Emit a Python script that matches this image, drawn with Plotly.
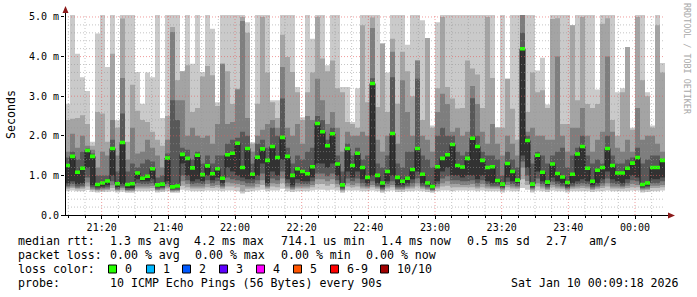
import pandas as pd
import plotly.graph_objects as go

# ---------------- data (ms) ----------------
start_time = "2026-01-09 21:09:00"
end_time = "2026-01-10 00:09:00"
step_seconds = 90

median = [1.25,1.48,1.08,1.18,1.63,1.48,0.77,0.81,0.86,1.68,0.79,1.83,0.77,0.79,1.06,0.93,0.98,1.17,0.76,0.78,
          1.44,0.71,0.73,1.53,1.43,1.19,1.51,1.02,1.24,1.04,1.17,0.93,1.52,1.56,1.81,1.20,1.68,1.03,1.46,1.67,
          1.38,1.73,1.45,1.96,1.48,1.00,1.17,1.10,1.04,1.22,2.31,2.10,1.75,2.05,1.29,0.76,1.68,1.25,1.56,1.20,
          0.95,3.32,1.00,0.81,1.10,2.06,0.95,0.85,0.93,1.15,1.68,1.03,0.81,0.72,1.22,1.43,1.52,1.78,1.25,1.21,
          1.43,1.94,1.73,1.38,1.20,1.22,0.87,0.78,1.30,1.10,0.88,4.20,1.88,0.78,1.51,1.08,0.83,1.29,1.05,0.96,
          0.82,1.03,1.54,1.73,1.18,0.85,1.13,1.20,1.68,1.25,1.06,1.06,1.18,1.31,1.45,0.77,0.81,1.20,1.20,1.38]

ping10 = [2.81,5.1,4.07,3.48,3.13,1.85,4.58,5.1,3.74,5.1,2.39,5.1,5.1,5.1,3.61,2.81,3.6,3.48,5.1,2.45,
          5.1,5.1,5.1,3.63,5.1,3.82,5.1,3.61,5.1,4.7,2.85,5.1,5.1,5.1,5.1,5.1,4.87,1.84,5.1,5.1,
          5.1,2.9,2.9,5.1,5.1,5.1,3.23,2.47,5.1,4.45,5.1,5.1,3.78,5.1,5.1,3.23,3.23,2.35,3.2,5.1,
          5.1,5.1,5.1,4.33,3.6,5.1,5.1,5.1,4.3,5.1,5.1,4.92,4.47,2.26,4.87,5.1,5.1,5.1,5.1,5.1,
          5.1,5.1,5.1,5.1,5.1,5.1,2.22,5.1,3.44,5.1,5.1,5.1,5.1,5.1,3.65,3.97,2.79,5.1,5.1,5.1,
          5.1,4.79,5.1,5.1,5.1,5.1,3.17,5.1,5.1,5.1,3.1,3.2,4.24,2.2,5.1,5.1,3.1,2.26,5.1,3.84]

ping9 = [2.4,2.43,2.45,2.52,2.3,1.75,2.6,2.56,1.85,4.07,2.2,4.96,1.85,3.29,2.63,2.4,2.35,2.1,1.9,1.75,
         2.5,4.75,3.4,3.63,3.78,2.6,2.7,3.5,3.76,3.53,2.75,3.82,3.63,2.8,3.19,5.0,4.6,1.8,2.81,5.0,
         3.6,2.85,2.45,4.55,3.99,3.61,3.1,2.4,3.1,3.6,5.0,3.95,3.63,3.9,3.2,3.1,2.35,2.3,2.2,4.79,
         2.85,4.99,2.73,4.33,2.6,4.45,2.81,4.12,3.63,3.0,3.9,2.4,4.47,2.2,3.2,5.0,3.23,2.94,2.69,2.7,
         3.9,3.7,3.55,2.7,5.0,3.46,2.2,2.2,3.44,2.68,1.9,5.1,2.6,3.6,3.1,3.15,2.7,4.95,4.97,2.3,
         2.3,4.79,2.9,5.0,2.8,2.7,2.8,4.83,4.97,2.4,2.0,3.1,4.24,2.15,5.0,3.4,3.0,2.2,4.79,3.6]

ping8 = [1.6,2.05,1.7,2.0,1.75,1.65,1.2,1.6,1.5,2.4,1.5,3.46,1.4,2.2,1.55,1.6,1.9,1.7,1.5,1.2,
         1.9,4.62,2.9,2.9,2.0,2.2,2.0,1.95,2.0,1.8,2.3,3.82,2.3,2.35,3.17,4.9,2.45,1.6,2.0,2.15,
         2.3,2.4,2.2,3.74,2.2,2.0,2.3,1.8,2.5,2.4,3.44,2.9,2.3,2.6,2.2,1.6,2.1,2.0,2.0,2.1,
         2.0,4.72,1.9,1.6,2.0,4.12,1.8,3.4,2.6,2.0,3.9,2.0,1.9,1.6,2.6,3.06,2.8,2.1,2.2,2.0,
         2.1,3.26,2.8,2.1,1.8,2.3,1.8,1.5,2.0,1.8,1.5,5.1,2.1,2.2,2.0,2.0,1.9,1.9,4.0,2.0,
         1.6,2.2,2.2,2.7,2.0,1.6,1.9,2.1,4.0,2.1,1.7,1.6,1.9,1.6,2.7,1.9,2.0,2.0,1.8,1.6]

ping7 = [1.45,1.6,1.4,1.6,1.68,1.55,1.0,1.0,1.0,1.9,1.1,2.56,1.1,1.3,1.2,1.3,1.4,1.35,0.95,1.0,
         1.55,2.9,2.4,1.7,1.65,1.4,1.6,1.3,1.5,1.3,1.5,1.5,1.8,1.9,1.95,2.1,2.0,1.3,1.8,1.9,
         1.7,2.2,2.0,2.94,1.7,1.3,1.5,1.4,1.6,1.7,2.5,2.4,1.9,2.2,1.5,1.1,1.8,1.5,1.7,1.4,
         1.5,3.45,1.3,1.2,1.5,3.48,1.3,1.2,1.6,1.6,3.44,1.5,1.4,1.2,2.0,2.2,2.0,2.0,1.6,1.5,
         1.6,2.95,2.0,1.6,1.5,1.5,1.4,1.0,1.6,1.4,1.2,4.6,2.0,1.3,1.6,1.5,1.3,1.5,1.6,1.7,
         1.2,1.5,1.7,2.0,1.5,1.3,1.4,1.3,2.0,1.5,1.3,1.3,1.4,1.45,1.7,1.3,1.4,1.5,1.5,1.4]

ping5 = [0.8,0.85,0.78,0.8,1.2,0.75,0.7,0.72,0.75,1.0,0.7,0.78,0.68,0.68,0.9,0.85,0.85,0.9,0.7,0.72,
         0.85,0.66,0.68,1.3,1.0,0.85,0.9,0.85,1.0,0.88,0.95,0.8,1.2,1.1,1.0,0.95,0.9,0.9,1.0,1.3,
         0.8,1.1,1.0,1.4,0.9,0.75,0.9,0.85,0.85,0.95,1.3,1.3,1.2,1.3,1.0,0.7,1.1,0.95,1.1,0.9,
         0.8,1.0,0.8,0.7,0.85,1.0,0.75,0.75,0.8,0.9,1.1,0.8,0.75,0.68,0.85,1.1,1.2,1.0,1.0,0.95,
         1.0,1.0,0.9,1.0,0.85,0.8,0.8,0.72,0.95,0.85,0.8,1.5,1.2,0.72,1.1,0.85,0.75,0.95,0.85,0.8,
         0.72,0.8,0.85,0.9,0.85,0.75,0.8,0.9,1.1,0.9,0.85,0.8,0.9,1.0,0.95,0.72,0.74,0.9,0.9,0.95]

ping4 = [0.74,0.78,0.72,0.74,0.95,0.7,0.66,0.68,0.7,0.85,0.66,0.72,0.64,0.65,0.8,0.78,0.78,0.8,0.66,0.68,
         0.78,0.63,0.64,1.0,0.88,0.78,0.8,0.78,0.88,0.8,0.85,0.74,0.95,0.9,0.88,0.85,0.8,0.8,0.88,1.05,
         0.74,0.92,0.88,1.1,0.8,0.7,0.8,0.78,0.78,0.85,1.05,1.05,0.98,1.05,0.88,0.66,0.92,0.85,0.92,0.8,
         0.74,0.85,0.74,0.66,0.78,0.85,0.7,0.7,0.74,0.8,0.92,0.74,0.7,0.64,0.78,0.92,0.98,0.88,0.88,0.85,
         0.85,0.88,0.8,0.88,0.78,0.74,0.74,0.68,0.84,0.78,0.74,1.35,1.0,0.68,0.92,0.78,0.7,0.84,0.78,0.74,
         0.68,0.74,0.78,0.8,0.78,0.7,0.74,0.8,0.92,0.8,0.78,0.74,0.8,0.88,0.85,0.68,0.7,0.8,0.8,0.85]

ping3 = [0.7,0.72,0.68,0.7,0.82,0.66,0.63,0.65,0.66,0.75,0.63,0.68,0.62,0.62,0.72,0.72,0.72,0.73,0.63,0.65,
         0.72,0.61,0.62,0.85,0.78,0.72,0.72,0.72,0.78,0.73,0.76,0.7,0.82,0.8,0.78,0.76,0.72,0.72,0.78,0.88,
         0.7,0.8,0.78,0.92,0.72,0.66,0.72,0.72,0.72,0.76,0.9,0.9,0.85,0.9,0.78,0.63,0.8,0.76,0.8,0.72,
         0.7,0.76,0.7,0.63,0.72,0.76,0.66,0.66,0.7,0.72,0.8,0.7,0.66,0.62,0.72,0.8,0.85,0.78,0.78,0.76,
         0.76,0.78,0.72,0.78,0.72,0.7,0.7,0.65,0.76,0.72,0.7,1.2,0.86,0.65,0.8,0.72,0.66,0.76,0.72,0.7,
         0.65,0.7,0.72,0.74,0.72,0.66,0.7,0.74,0.8,0.72,0.72,0.7,0.74,0.78,0.76,0.65,0.66,0.74,0.74,0.76]

ping2 = [0.66,0.68,0.65,0.66,0.72,0.63,0.61,0.62,0.63,0.68,0.61,0.64,0.6,0.6,0.67,0.67,0.67,0.68,0.61,0.62,
         0.67,0.59,0.6,0.74,0.7,0.67,0.67,0.67,0.7,0.68,0.7,0.66,0.72,0.72,0.7,0.6,0.66,0.67,0.7,0.76,
         0.66,0.72,0.7,0.8,0.67,0.63,0.67,0.67,0.67,0.7,0.78,0.78,0.74,0.78,0.7,0.6,0.72,0.7,0.72,0.67,
         0.66,0.7,0.66,0.6,0.67,0.7,0.63,0.63,0.66,0.67,0.72,0.66,0.63,0.6,0.67,0.72,0.74,0.7,0.7,0.7,
         0.7,0.7,0.67,0.7,0.67,0.66,0.66,0.62,0.7,0.67,0.66,0.9,0.76,0.62,0.72,0.67,0.63,0.7,0.67,0.66,
         0.62,0.66,0.67,0.68,0.67,0.63,0.66,0.68,0.72,0.67,0.67,0.66,0.68,0.7,0.7,0.62,0.63,0.68,0.68,0.7]

ping1 = [0.6,0.62,0.6,0.6,0.63,0.59,0.57,0.58,0.59,0.6,0.57,0.59,0.56,0.56,0.6,0.6,0.6,0.61,0.57,0.58,
         0.6,0.56,0.56,0.64,0.62,0.6,0.6,0.6,0.62,0.61,0.62,0.6,0.62,0.62,0.6,0.54,0.58,0.6,0.62,0.64,
         0.6,0.62,0.62,0.66,0.6,0.58,0.6,0.6,0.6,0.62,0.64,0.64,0.62,0.64,0.62,0.56,0.62,0.62,0.62,0.6,
         0.6,0.62,0.6,0.56,0.6,0.62,0.58,0.58,0.6,0.6,0.62,0.6,0.58,0.56,0.6,0.62,0.62,0.6,0.62,0.62,
         0.62,0.62,0.6,0.62,0.6,0.6,0.6,0.57,0.62,0.6,0.6,0.68,0.64,0.57,0.62,0.6,0.58,0.62,0.6,0.6,
         0.57,0.6,0.6,0.6,0.6,0.58,0.6,0.6,0.62,0.6,0.6,0.6,0.6,0.62,0.62,0.57,0.58,0.6,0.6,0.62]

x_tick_labels = ["21:20", "21:40", "22:00", "22:20", "22:40", "23:00", "23:20", "23:40", "00:00"]
x_tick_times = ["2026-01-09 21:20", "2026-01-09 21:40", "2026-01-09 22:00", "2026-01-09 22:20",
                "2026-01-09 22:40", "2026-01-09 23:00", "2026-01-09 23:20", "2026-01-09 23:40",
                "2026-01-10 00:00"]
y_tick_vals = [0, 1, 2, 3, 4, 5]
y_tick_labels = ["0.0", "1.0 m", "2.0 m", "3.0 m", "4.0 m", "5.0 m"]

legend_lines = [
    [("median rtt:", 16), ("1.3 ms avg", 108), ("4.2 ms max", 192), ("714.1 us min", 279),
     ("1.4 ms now", 379), ("0.5 ms sd", 465), ("2.7", 544), ("am/s", 587)],
    [("packet loss:", 16), ("0.00 % avg", 108), ("0.00 % max", 193), ("0.00 % min", 279),
     ("0.00 % now", 364)],
]
loss_labels = ["0", "1", "2", "3", "4", "5", "6-9", "10/10"]
loss_colors = ["#26ff00", "#00b8ff", "#0059ff", "#5e00ff", "#ff00ff", "#ff5500", "#ff0000", "#a10000"]
loss_box_x = [108, 146, 182, 219, 256, 293, 330, 380]
probe_text = "10 ICMP Echo Pings (56 Bytes) every 90s"
date_text = "Sat Jan 10 00:09:18 2026"

# ---------------- geometry ----------------
W, H = 697, 297
PL, PR, PT, PB = 65, 665, 15, 215
Y_MAX = 5.05
FONT = "DejaVu Sans Mono"

def px(x):
    return (x - PL) / (PR - PL)

def py(y):
    return (PB - y) / (PB - PT)

n = len(median)
t0 = pd.Timestamp(start_time)
dt = pd.Timedelta(seconds=step_seconds)
edges = [t0 + dt * i for i in range(n + 1)]

def step(vals):
    return list(vals) + [vals[-1]]

fig = go.Figure()

def band(lo, hi, col):
    fig.add_trace(go.Scatter(x=edges, y=step(lo), mode="lines",
                             line=dict(width=0, color=col, shape="hv"),
                             hoverinfo="skip", showlegend=False))
    fig.add_trace(go.Scatter(x=edges, y=step(hi), mode="lines", fill="tonexty",
                             fillcolor=col, line=dict(width=0, color=col, shape="hv"),
                             hoverinfo="skip", showlegend=False))

band(ping1, ping10, "#cacaca")
band(ping2, ping9, "#a4a4a4")
band(ping3, ping8, "#7e7e7e")
band(ping4, ping7, "#585858")
band(ping5, median, "#323232")

# median step line
fig.add_trace(go.Scatter(x=edges, y=step(median), mode="lines",
                         line=dict(color="#202020", width=1, shape="hv"),
                         hoverinfo="skip", showlegend=False))

# median markers coloured by loss (all 0 % loss -> green)
half = 0.045
band([m - half for m in median], [m + half for m in median], loss_colors[0])

shapes = []
minor_col = "rgba(150,150,150,0.55)"
major_col = "rgba(230,90,90,0.6)"
t_end = pd.Timestamp(end_time)
major_set = set(pd.Timestamp(s) for s in x_tick_times)
minor_x = []
t = pd.Timestamp("2026-01-09 21:10")
while t < t_end:
    is_major = t in major_set
    if not is_major:
        minor_x.append(t)
    shapes.append(dict(type="line", xref="x", yref="paper", x0=t, x1=t, y0=0, y1=1,
                       line=dict(color=major_col if is_major else minor_col, width=1,
                                 dash="1px,2px"), layer="above"))
    t += pd.Timedelta(minutes=5)
for i in range(1, 26):
    v = i * 0.2
    is_major = abs(v - round(v)) < 1e-9
    shapes.append(dict(type="line", xref="paper", yref="y", x0=0, x1=1, y0=v, y1=v,
                       line=dict(color=major_col if is_major else minor_col, width=1,
                                 dash="1px,2px"), layer="above"))

# axes lines and arrows
shapes.append(dict(type="line", xref="paper", yref="paper", x0=px(65.5), x1=px(65.5),
                   y0=py(215.5), y1=py(9), line=dict(color="black", width=1), layer="above"))
shapes.append(dict(type="line", xref="paper", yref="paper", x0=px(62), x1=px(670),
                   y0=py(215.5), y1=py(215.5), line=dict(color="black", width=1), layer="above"))
shapes.append(dict(type="path", xref="paper", yref="paper",
                   path=f"M {px(62.5)} {py(13)} L {px(68.5)} {py(13)} L {px(65.5)} {py(6)} Z",
                   fillcolor="#8b1a1a", line=dict(width=0), layer="above"))
shapes.append(dict(type="path", xref="paper", yref="paper",
                   path=f"M {px(668)} {py(212.5)} L {px(668)} {py(218.5)} L {px(675)} {py(215.5)} Z",
                   fillcolor="#8b1a1a", line=dict(width=0), layer="above"))

annotations = []
line_y = [241, 255, 269, 283]

def text(txt, x, y, anchor="left", size=11.6, color="black", angle=0):
    annotations.append(dict(text=txt, x=px(x), y=py(y), xref="paper", yref="paper",
                            xanchor=anchor, yanchor="middle", showarrow=False, textangle=angle,
                            font=dict(family=FONT, size=size, color=color)))

for row, items in enumerate(legend_lines):
    for txt, x in items:
        text(txt, x, line_y[row])
text("loss color:", 16, line_y[2])
for lbl, col, bx in zip(loss_labels, loss_colors, loss_box_x):
    shapes.append(dict(type="rect", xref="paper", yref="paper",
                       x0=px(bx + 0.5), x1=px(bx + 8.5), y0=py(line_y[2] + 4), y1=py(line_y[2] - 4),
                       fillcolor=col, line=dict(color="black", width=1)))
    text(lbl, bx + 15, line_y[2])
text("probe:", 16, line_y[3])
text(probe_text, 108, line_y[3])
text(date_text, 681, line_y[3], anchor="right")
text("Seconds", 11, 115, anchor="center", angle=-90)
text("RRDTOOL / TOBI OETIKER", 687, 59, anchor="center", size=8.4, color="#a8a8a8", angle=90)

fig.update_layout(
    width=W, height=H,
    margin=dict(l=PL, r=W - PR, t=PT, b=H - PB, pad=0),
    paper_bgcolor="white", plot_bgcolor="white",
    showlegend=False,
    shapes=shapes, annotations=annotations,
    xaxis=dict(type="date", range=[t0, t_end], showgrid=False, zeroline=False,
               tickmode="array", tickvals=[pd.Timestamp(s) for s in x_tick_times],
               ticktext=x_tick_labels, ticks="outside", ticklen=3, tickcolor="black",
               minor=dict(tickmode="array", tickvals=minor_x, ticks="outside", ticklen=2,
                          tickcolor="black", showgrid=False),
               tickfont=dict(family=FONT, size=10, color="black"), showline=False,
               fixedrange=True),
    yaxis=dict(range=[0, Y_MAX], showgrid=False, zeroline=False,
               tickmode="array", tickvals=y_tick_vals, ticktext=y_tick_labels,
               ticks="outside", ticklen=3, tickcolor="black",
               tickfont=dict(family=FONT, size=10, color="black"), showline=False,
               fixedrange=True),
)

fig.write_html("out.html")
